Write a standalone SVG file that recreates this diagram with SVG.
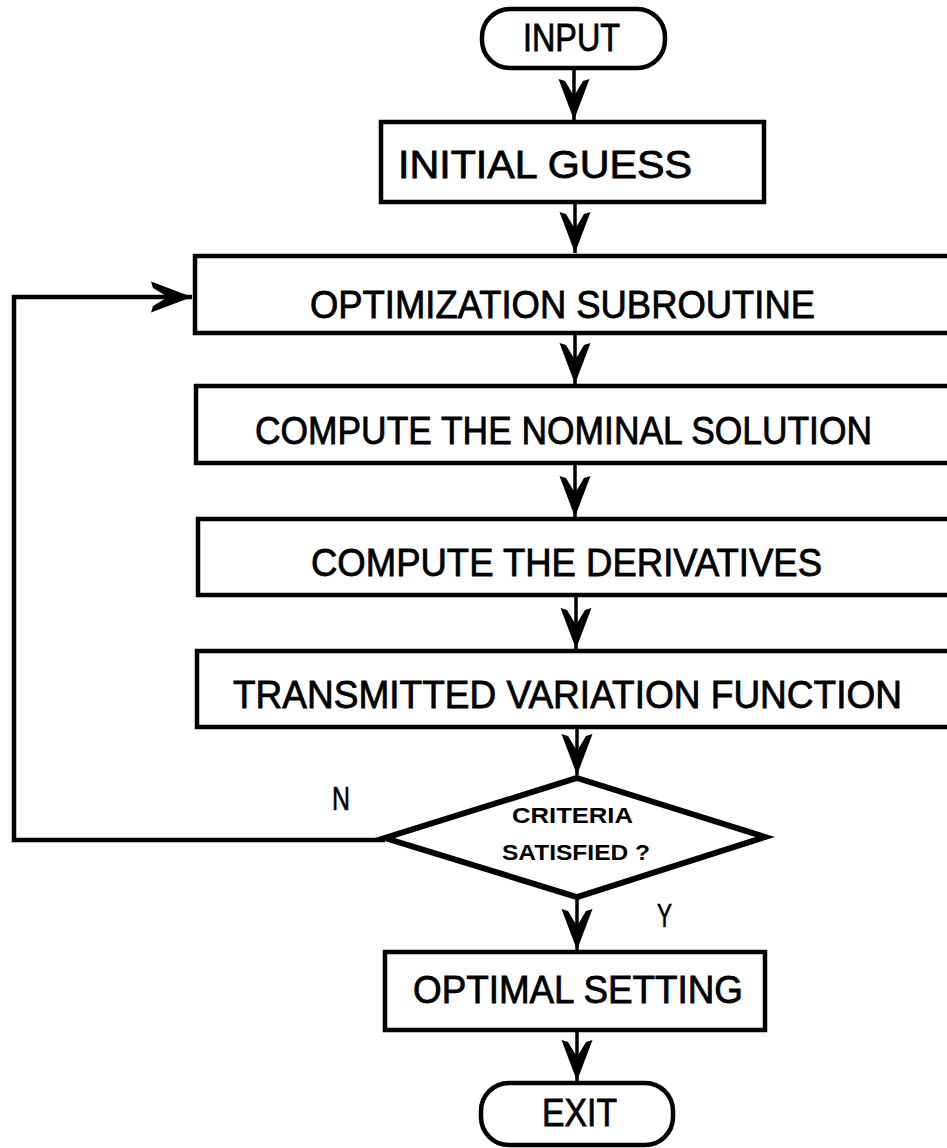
<svg xmlns="http://www.w3.org/2000/svg" width="947" height="1148" viewBox="0 0 947 1148">
<style>
.box{fill:#fff;stroke:#000;stroke-width:4.5}
.dia{fill:#fff;stroke:#000;stroke-width:6;stroke-linejoin:miter}
.t{font-family:"Liberation Sans",Arial,sans-serif;font-size:38px;fill:#000;stroke:#000;stroke-width:0.8}
.s{font-family:"Liberation Sans",Arial,sans-serif;font-size:22px;font-weight:bold;fill:#000}
.lbl{font-family:"Liberation Sans",Arial,sans-serif;font-size:33px;fill:#000;stroke:#000;stroke-width:0.6}
.c{fill:none;stroke:#000;stroke-width:3.5}
.loop{fill:none;stroke:#000;stroke-width:4.5}
</style>
<defs>
<marker id="ah" markerUnits="userSpaceOnUse" viewBox="-44 -18 46 36" markerWidth="46" markerHeight="36" refX="0" refY="0" orient="auto" overflow="visible">
<path d="M0,0 L-41,-15.5 L-39,-9 L-24,0 L-39,9 L-41,15.5 Z" fill="#000"/>
</marker>
</defs>
<rect x="0" y="0" width="947" height="1148" fill="#fff"/>

<g id="connectors">
<line class="c" x1="574" y1="68" x2="574" y2="120" marker-end="url(#ah)"/>
<line class="c" x1="575" y1="202" x2="575" y2="253" marker-end="url(#ah)"/>
<line class="c" x1="575" y1="332" x2="575" y2="384" marker-end="url(#ah)"/>
<line class="c" x1="575" y1="462" x2="575" y2="517" marker-end="url(#ah)"/>
<line class="c" x1="576" y1="595" x2="576" y2="649" marker-end="url(#ah)"/>
<line class="c" x1="577" y1="727" x2="577" y2="775" marker-end="url(#ah)"/>
<line class="c" x1="577" y1="897" x2="577" y2="950" marker-end="url(#ah)"/>
<line class="c" x1="577" y1="1030" x2="577" y2="1081" marker-end="url(#ah)"/>
<polyline class="loop" points="385,840 14,840 14,297 192,297" marker-end="url(#ah)"/>
</g>

<g id="input">
<rect class="box" x="482" y="9" width="183" height="59" rx="28" ry="28"/>
<text class="t" x="523" y="51" textLength="97" lengthAdjust="spacingAndGlyphs">INPUT</text>
</g>

<g id="initial-guess">
<rect class="box" x="381" y="122" width="383" height="80"/>
<text class="t" x="398" y="178" textLength="294" lengthAdjust="spacingAndGlyphs">INITIAL GUESS</text>
</g>

<g id="optimization-subroutine">
<rect class="box" x="195" y="256" width="770" height="77"/>
<text class="t" x="310" y="318" textLength="505" lengthAdjust="spacingAndGlyphs">OPTIMIZATION SUBROUTINE</text>
</g>

<g id="nominal-solution">
<rect class="box" x="196" y="386" width="770" height="77"/>
<text class="t" x="255" y="444" textLength="617" lengthAdjust="spacingAndGlyphs">COMPUTE THE NOMINAL SOLUTION</text>
</g>

<g id="derivatives">
<rect class="box" x="198" y="519" width="770" height="76"/>
<text class="t" x="311" y="576" textLength="511" lengthAdjust="spacingAndGlyphs">COMPUTE THE DERIVATIVES</text>
</g>

<g id="transmitted-variation">
<rect class="box" x="197" y="651" width="770" height="76"/>
<text class="t" x="233" y="708" textLength="669" lengthAdjust="spacingAndGlyphs">TRANSMITTED VARIATION FUNCTION</text>
</g>

<g id="criteria">
<polygon class="dia" points="577,778 765,837 577,897 385,838"/>
<text class="s" x="512" y="823" textLength="121" lengthAdjust="spacingAndGlyphs">CRITERIA</text>
<text class="s" x="502" y="860" textLength="148" lengthAdjust="spacingAndGlyphs">SATISFIED ?</text>
</g>

<g id="labels">
<text class="lbl" x="332" y="810" textLength="18" lengthAdjust="spacingAndGlyphs">N</text>
<text class="lbl" x="657" y="927" textLength="15" lengthAdjust="spacingAndGlyphs">Y</text>
</g>

<g id="optimal-setting">
<rect class="box" x="385" y="952" width="380" height="78"/>
<text class="t" x="413" y="1003" textLength="330" lengthAdjust="spacingAndGlyphs">OPTIMAL SETTING</text>
</g>

<g id="exit">
<rect class="box" x="481" y="1083" width="192" height="62" rx="28" ry="28"/>
<text class="t" x="542" y="1126" textLength="75" lengthAdjust="spacingAndGlyphs">EXIT</text>
</g>
</svg>
